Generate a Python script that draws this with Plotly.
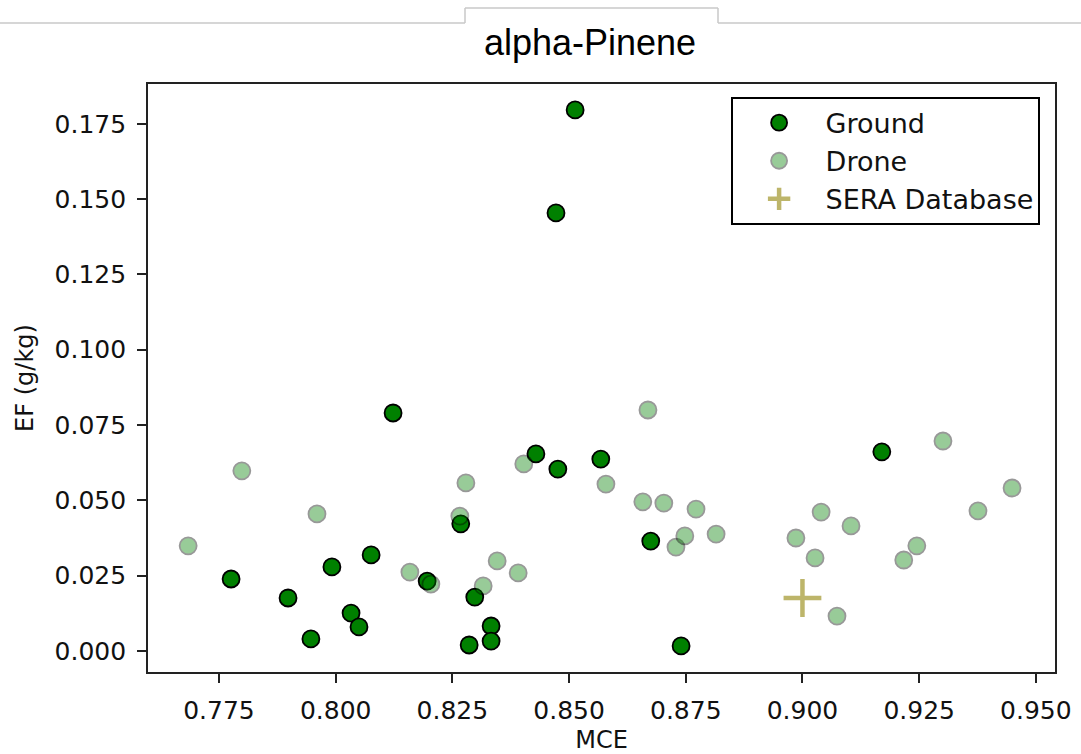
import plotly.graph_objects as go

# Ground measurements (MCE, EF g/kg)
ground_mce = [0.8513, 0.8472, 0.8123, 0.8429, 0.8476, 0.8568, 0.9170, 0.8268,
              0.8076, 0.7992, 0.7776, 0.8196, 0.7898, 0.8298, 0.8675, 0.8033,
              0.8050, 0.7947, 0.8333, 0.8333, 0.8286, 0.8740]
ground_ef = [0.1796, 0.1454, 0.0790, 0.0654, 0.0604, 0.0637, 0.0661, 0.0422,
             0.0319, 0.0279, 0.0239, 0.0232, 0.0176, 0.0179, 0.0365, 0.0126,
             0.0080, 0.0040, 0.0083, 0.0033, 0.0020, 0.0017]

# Drone measurements
drone_mce = [0.7684, 0.7799, 0.7960, 0.8159, 0.8204, 0.8266, 0.8279, 0.8316,
             0.8346, 0.8391, 0.8403, 0.8579, 0.8658, 0.8669, 0.8703, 0.8729,
             0.8748, 0.8772, 0.8815, 0.8986, 0.9027, 0.9040, 0.9074, 0.9104,
             0.9217, 0.9245, 0.9301, 0.9376, 0.9449]
drone_ef = [0.0349, 0.0598, 0.0455, 0.0262, 0.0222, 0.0448, 0.0558, 0.0216,
            0.0299, 0.0259, 0.0621, 0.0554, 0.0495, 0.0800, 0.0491, 0.0345,
            0.0382, 0.0471, 0.0388, 0.0375, 0.0309, 0.0461, 0.0116, 0.0415,
            0.0302, 0.0349, 0.0697, 0.0465, 0.0541]

# SERA database value
sera_mce = [0.900]
sera_ef = [0.0176]

x_ticks = [0.775, 0.800, 0.825, 0.850, 0.875, 0.900, 0.925, 0.950]
y_ticks = [0.000, 0.025, 0.050, 0.075, 0.100, 0.125, 0.150, 0.175]

W, H = 1081, 754
L, R, T, B = 148, 26, 84, 82
pw, ph = W - L - R, H - T - B

def px(xp):
    return (xp - L) / pw

def py(yp):
    return (H - B - yp) / ph

fig = go.Figure()
fig.add_trace(go.Scatter(
    x=ground_mce, y=ground_ef, mode="markers", name="Ground", legendgroup="g",
    marker=dict(size=17, color="green", line=dict(color="black", width=1.8)),
))
fig.add_trace(go.Scatter(
    x=drone_mce, y=drone_ef, mode="markers", name="Drone", legendgroup="d",
    marker=dict(size=17, color="green", opacity=0.4,
                line=dict(color="black", width=1.8)),
))
fig.add_trace(go.Scatter(
    x=sera_mce, y=sera_ef, mode="markers", name="SERA Database", legendgroup="s",
    marker=dict(size=27, symbol="cross-thin", color="#bdb56a",
                line=dict(color="#bdb56a", width=4.5)),
))

font = "DejaVu Sans"
axis_common = dict(
    showgrid=False, zeroline=False, showline=True, linecolor="#222222",
    linewidth=1.6, mirror=True, ticks="outside", ticklen=9, tickwidth=1.6,
    tickcolor="#222222", tickfont=dict(family=font, size=25, color="#111111"),
    ticklabelstandoff=6, automargin=False,
)

fig.update_layout(
    width=W, height=H,
    margin=dict(l=L, r=R, t=T, b=B, autoexpand=False),
    paper_bgcolor="white", plot_bgcolor="white",
    title=dict(text="alpha-Pinene", x=590 / W, xanchor="center",
               y=1 - 42 / H, yanchor="middle",
               font=dict(family="Liberation Sans", size=36, color="black")),
    xaxis=dict(range=[0.7598, 0.9541], tickvals=x_ticks,
               ticktext=[f"{v:.3f}" for v in x_ticks],
               title=dict(text="MCE", font=dict(family=font, size=24, color="#111111"),
                          standoff=8),
               **axis_common),
    yaxis=dict(range=[-0.00697, 0.1882], tickvals=y_ticks,
               ticktext=[f"{v:.3f}" for v in y_ticks],
               title=dict(text="EF (g/kg)", font=dict(family=font, size=24, color="#111111"),
                          standoff=14),
               **axis_common),
    legend=dict(x=px(1040), y=py(97), xanchor="right", yanchor="top",
                bgcolor="white", bordercolor="black", borderwidth=1.6,
                font=dict(family=font, size=27, color="#111111"),
                itemsizing="trace", itemwidth=83, tracegroupgap=0),
    showlegend=True,
)

# Screenshot tab decoration at top
gray = "#c8c8c8"
for (x0, y0, x1, y1) in [(0, 23, 465, 23), (465, 23, 465, 8), (465, 8, 718, 8),
                         (718, 8, 718, 23), (718, 23, 1081, 23)]:
    fig.add_shape(type="line", xref="paper", yref="paper",
                  x0=px(x0), y0=py(y0), x1=px(x1), y1=py(y1),
                  line=dict(color=gray, width=1.5))

fig.write_html("out.html")
